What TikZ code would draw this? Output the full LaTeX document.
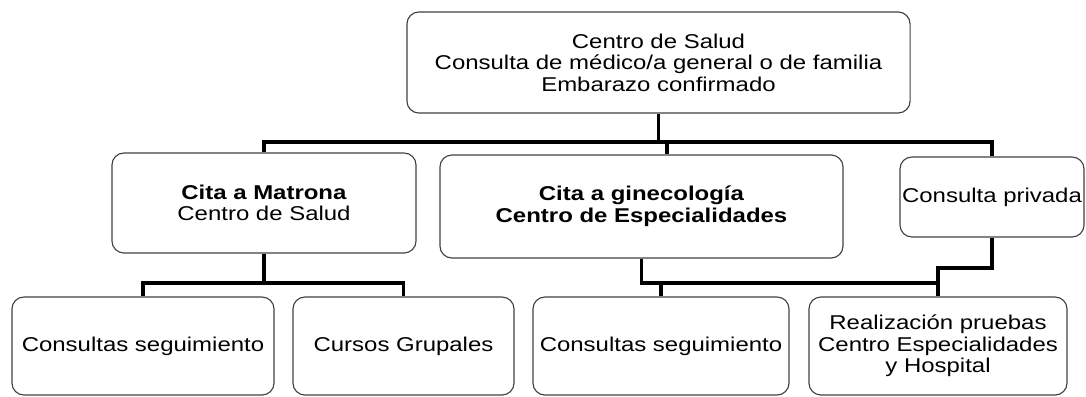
\documentclass[tikz,border=0pt]{standalone}
\usepackage{fontspec}
\setmainfont{Liberation Sans}[FakeStretch=1.2]
\usetikzlibrary{arrows}

\begin{document}
\begin{tikzpicture}[x=0.025cm, y=-0.025cm]
\tikzset{caja/.style={draw=black!75, line width=0.8pt, rounded corners=8.5pt, inner sep=1pt, align=center, font=\fontsize{14.2}{15.3}\selectfont},
  conn/.style={draw, line width=2.6pt, line join=miter}}
\useasboundingbox (0,0) rectangle (1086,396);
  \node [caja, minimum width=12.575cm, minimum height=2.525cm] (top) at (658.5,62.5) {Centro de Salud\\Consulta de médico/a general o de familia\\Embarazo confirmado};
  \node [caja, minimum width=7.6cm, minimum height=2.5cm] (mat) at (264,203) {\textbf{Cita a Matrona}\\Centro de Salud};
  \node [caja, minimum width=10.075cm, minimum height=2.575cm] (gin) at (641.5,206.5) {\textbf{Cita a ginecología}\\\textbf{Centro de Especialidades}};
  \node [caja, minimum width=4.6cm, minimum height=2.0cm] (priv) at (992,197) {Consulta privada};
  \node [caja, minimum width=6.55cm, minimum height=2.45cm] (seg1) at (143,346) {Consultas seguimiento};
  \node [caja, minimum width=5.525cm, minimum height=2.45cm] (curs) at (403.5,346) {Cursos Grupales};
  \node [caja, minimum width=6.4cm, minimum height=2.45cm] (seg2) at (661,346) {Consultas seguimiento};
  \node [caja, minimum width=6.45cm, minimum height=2.45cm] (hosp) at (938,346) {Realización pruebas\\Centro Especialidades\\y Hospital};

  \coordinate (busA) at (0,142);
  \coordinate (busB) at (0,283);
  \coordinate (busC) at (0,268);
  \coordinate (ginin) at (667,142);

  \draw [conn] (top.south) -- (top.south |- busA);
  \draw [conn] (mat.north) -- (mat.north |- busA) -- (priv.north |- busA) -- (priv.north);
  \draw [conn] (ginin) -- (ginin |- gin.north);
  \draw [conn] (mat.south) -- (mat.south |- busB);
  \draw [conn] (seg1.north) -- (seg1.north |- busB) -| (curs.north);
  \draw [conn] (gin.south) -- (gin.south |- busB) -| (hosp.north);
  \draw [conn] (seg2.north) -- (seg2.north |- busB);
  \draw [conn] (priv.south) -- (priv.south |- busC) -| (hosp.north);
\end{tikzpicture}
\end{document}
